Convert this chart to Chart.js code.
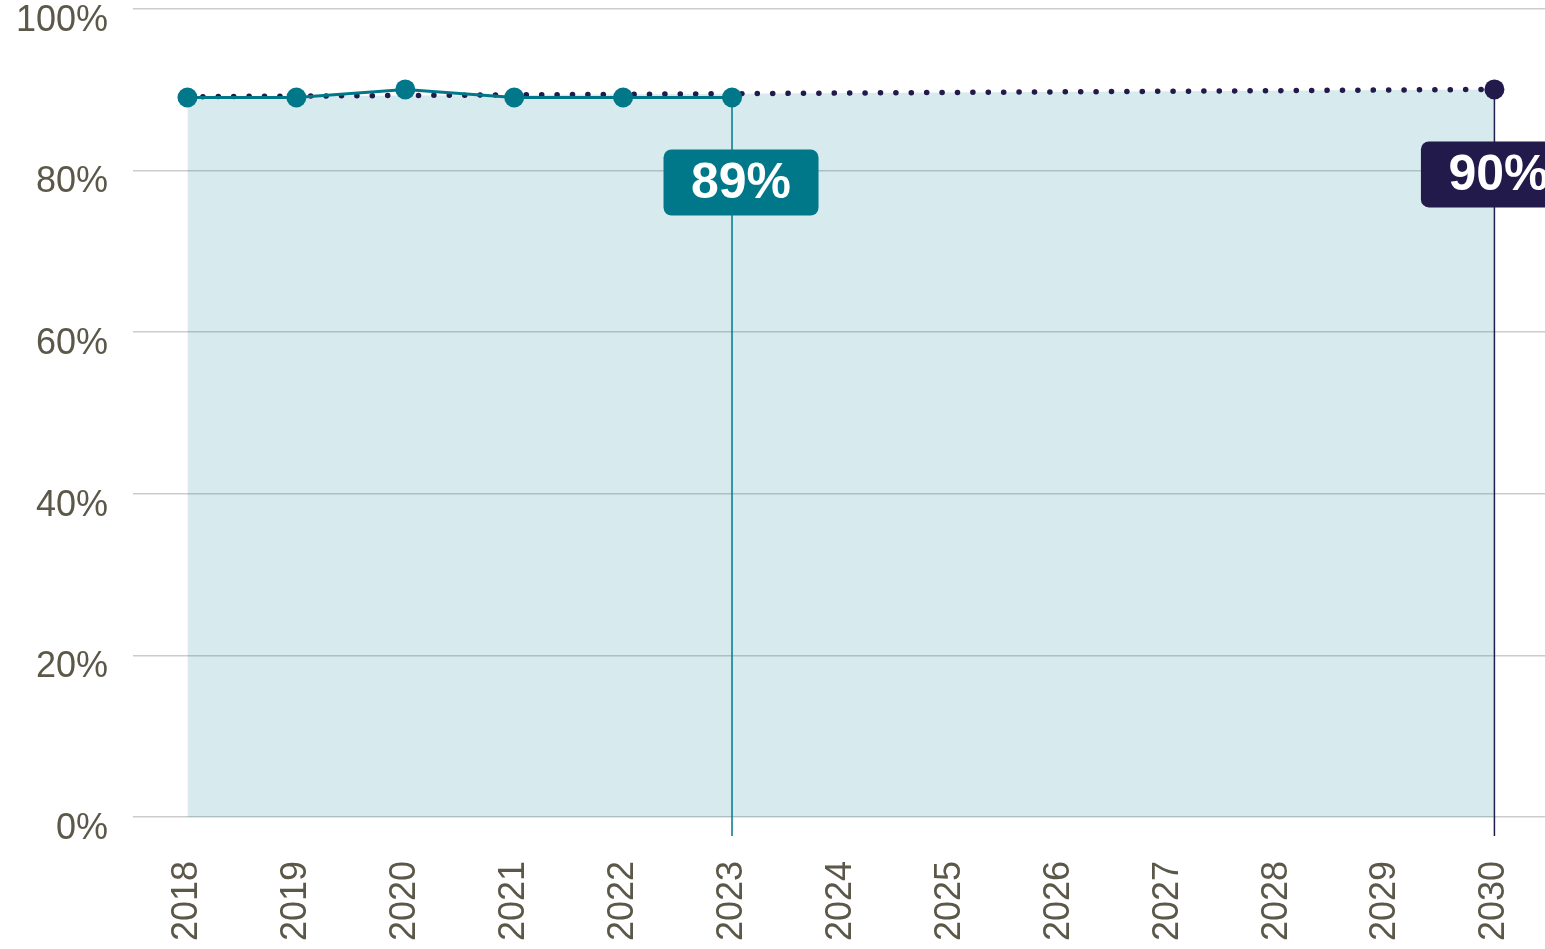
<!DOCTYPE html>
<html>
<head>
<meta charset="utf-8">
<script src="https://cdn.jsdelivr.net/npm/chart.js@4/dist/chart.umd.min.js"></script>
<style>
  html, body { margin: 0; padding: 0; background: #fff; overflow: hidden; }
  #wrap { width: 1545px; height: 949px; position: relative; overflow: hidden; }
  /* canvas is a bit bigger than the view so the plot reaches the top and right edges */
  #inner { position: absolute; left: 0; top: -38px; width: 1582px; height: 987px; }
</style>
</head>
<body>
<div id="wrap"><div id="inner"><canvas id="chart"></canvas></div></div>
<script>
// years on the x axis
const years = ["2018", "2019", "2020", "2021", "2022", "2023", "2024", "2025", "2026", "2027", "2028", "2029", "2030"];
// actual values (%)
const actual = [89, 89, 90, 89, 89, 89, null, null, null, null, null, null, null];
// target path (%) - only start and end known
const target = [89.1, null, null, null, null, null, null, null, null, null, null, null, 90];
// y axis ticks
const yTicks = [0, 20, 40, 60, 80, 100];

const TEAL = "#00788a";
const NAVY = "#211a4b";
const TICK = "#5b5849";

// draws the marker lines and the value boxes
const markerPlugin = {
    id: "markers",
    beforeDatasetsDraw(chart) {
        const ctx = chart.ctx;
        const x = chart.scales.x;
        const y = chart.scales.y;
        const bottom = chart.chartArea.bottom + 19;
        [[5, actual[5], TEAL], [12, target[12], NAVY]].forEach(([i, v, col]) => {
            ctx.save();
            ctx.strokeStyle = col;
            ctx.lineWidth = 1.5;
            ctx.beginPath();
            ctx.moveTo(x.getPixelForValue(i), y.getPixelForValue(v));
            ctx.lineTo(x.getPixelForValue(i), bottom);
            ctx.stroke();
            ctx.restore();
        });
    },
    afterDatasetsDraw(chart) {
        const ctx = chart.ctx;
        const x = chart.scales.x;
        const y = chart.scales.y;
        // [index, value, colour, shift of box centre]
        const boxes = [[5, actual[5], TEAL, 9], [12, target[12], NAVY, 4]];
        boxes.forEach(([i, v, col, dx]) => {
            const px = x.getPixelForValue(i) + dx;
            const top = y.getPixelForValue(v) + 52;
            const w = 155, h = 66;
            ctx.save();
            ctx.fillStyle = col;
            ctx.beginPath();
            ctx.roundRect(px - w / 2, top, w, h, 8);
            ctx.fill();
            ctx.fillStyle = "#fff";
            ctx.font = "bold 50px 'Liberation Sans', Arial, sans-serif";
            ctx.textAlign = "center";
            ctx.textBaseline = "middle";
            ctx.fillText(Math.round(v) + "%", px, top + h / 2 + 2);
            ctx.restore();
        });
    }
};

const ctx = document.getElementById("chart").getContext("2d");
const myChart = new Chart(ctx, {
    type: "line",
    data: {
        labels: years,
        datasets: [
            {
                label: "Actual",
                data: actual,
                borderColor: TEAL,
                backgroundColor: TEAL,
                borderWidth: 3,
                pointRadius: 10,
                pointHoverRadius: 10,
                pointBackgroundColor: TEAL,
                pointBorderWidth: 0,
                fill: false,
                spanGaps: false,
                order: 1
            },
            {
                label: "Target",
                data: target,
                borderColor: NAVY,
                backgroundColor: "rgba(0, 120, 138, 0.155)",
                borderWidth: 5.5,
                borderDash: [0.1, 15.3],
                borderCapStyle: "round",
                pointRadius: years.map((_, i) => i === 12 ? 10 : 0),
                pointBackgroundColor: NAVY,
                pointBorderWidth: 0,
                fill: "origin",
                spanGaps: true,
                order: 2
            }
        ]
    },
    options: {
        responsive: true,
        maintainAspectRatio: false,
        animation: false,
        layout: { padding: 0 },
        plugins: {
            legend: { display: false },
            tooltip: { enabled: false }
        },
        scales: {
            x: {
                offset: true,
                grid: { display: false, drawTicks: false },
                border: { display: false },
                ticks: {
                    color: TICK,
                    font: { family: "'Liberation Sans', Arial, sans-serif", size: 36 },
                    minRotation: 90,
                    maxRotation: 90,
                    padding: 44,
                    autoSkip: false
                },
                afterFit: (s) => { s.height = 132; }
            },
            y: {
                min: 0,
                max: 100,
                afterBuildTicks: (s) => { s.ticks = yTicks.map(v => ({ value: v })); },
                grid: { color: "#cccccc", lineWidth: 1.5, drawTicks: false },
                border: { display: false },
                ticks: {
                    color: TICK,
                    font: { family: "'Liberation Sans', Arial, sans-serif", size: 36 },
                    padding: 25,
                    labelOffset: 12,
                    callback: (v) => v + "%"
                },
                afterFit: (s) => { s.width = 133; }
            }
        }
    },
    plugins: [markerPlugin]
});
</script>
</body>
</html>
